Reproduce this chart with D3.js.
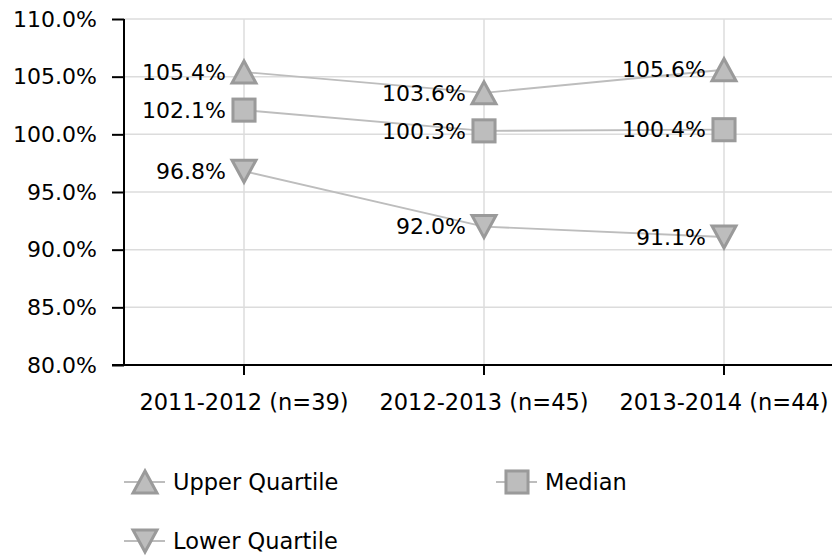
<!DOCTYPE html>
<html>
<head>
<meta charset="utf-8">
<script src="https://cdn.jsdelivr.net/npm/d3@7"></script>
<style>
  html, body { margin: 0; padding: 0; background: #fff; }
  svg { display: block; }
  text { font-family: "DejaVu Sans", Verdana, sans-serif; fill: #000; }
</style>
</head>
<body>
<svg id="chart" width="832" height="557"></svg>
<script>
// Periods along the x axis
const categories = ["2011-2012 (n=39)", "2012-2013 (n=45)", "2013-2014 (n=44)"];
// Percent values per series
const upperQuartile = [105.4, 103.6, 105.6];
const median = [102.1, 100.3, 100.4];
const lowerQuartile = [96.8, 92.0, 91.1];
// Y axis tick values
const yTicks = [80, 85, 90, 95, 100, 105, 110];

const series = [
  { name: "Upper Quartile", values: upperQuartile, symbol: "up" },
  { name: "Median", values: median, symbol: "square" },
  { name: "Lower Quartile", values: lowerQuartile, symbol: "down" }
];

const svg = d3.select("#chart");
const plotLeft = 124, plotRight = 844, plotTop = 19, plotBottom = 365;
const fontFamily = "DejaVu Sans, Verdana, sans-serif";

const x = d3.scaleBand().domain(categories).range([plotLeft, plotRight]);
const xc = c => x(c) + x.bandwidth() / 2;
const y = d3.scaleLinear().domain([80, 110]).range([plotBottom, plotTop]);

const lineColor = "#bdbdbd", markFill = "#bdbdbd", markStroke = "#9a9a9a";

// Grid
const grid = svg.append("g");
grid.selectAll("line.h").data(yTicks).join("line")
  .attr("x1", plotLeft).attr("x2", plotRight)
  .attr("y1", d => y(d)).attr("y2", d => y(d))
  .attr("stroke", "#dcdcdc").attr("stroke-width", 1.5);
grid.selectAll("line.v").data(categories).join("line")
  .attr("x1", d => xc(d)).attr("x2", d => xc(d))
  .attr("y1", plotTop).attr("y2", plotBottom)
  .attr("stroke", "#dcdcdc").attr("stroke-width", 1.5);

// Y axis
const yAxis = svg.append("g").attr("transform", `translate(${plotLeft},0)`)
  .call(d3.axisLeft(y).tickValues(yTicks).tickFormat(d => d.toFixed(1) + "%").tickSize(12).tickPadding(15));
yAxis.select(".domain").attr("stroke", "#000").attr("stroke-width", 2).attr("d", `M0,${plotTop}V${plotBottom}`);
yAxis.selectAll(".tick line").attr("stroke", "#000").attr("stroke-width", 2);
yAxis.selectAll(".tick text").style("font-size", "22px").style("font-family", fontFamily);

// X axis
const xAxis = svg.append("g").attr("transform", `translate(0,${plotBottom})`)
  .call(d3.axisBottom(x).tickSize(10).tickPadding(19));
xAxis.select(".domain").attr("stroke", "#000").attr("stroke-width", 2).attr("d", `M${plotLeft - 12},0H${plotRight}`);
xAxis.selectAll(".tick line").attr("stroke", "#000").attr("stroke-width", 2);
xAxis.selectAll(".tick text").style("font-size", "22.5px").style("font-family", fontFamily);

function drawSymbol(g, type, cx, cy, s) {
  if (type === "square") {
    const q = s * 0.92;
    g.append("rect").attr("x", cx - q / 2).attr("y", cy - q / 2).attr("width", q).attr("height", q)
      .attr("fill", markFill).attr("stroke", markStroke).attr("stroke-width", 3);
  } else {
    const h = s * 0.92, d = type === "up" ? -1 : 1;
    const pts = [[cx, cy + d * h / 2], [cx - s / 2, cy - d * h / 2], [cx + s / 2, cy - d * h / 2]];
    g.append("path").attr("d", "M" + pts.join("L") + "Z")
      .attr("fill", markFill).attr("stroke", markStroke).attr("stroke-width", 3).attr("stroke-linejoin", "miter");
  }
}

const line = d3.line().x((d, i) => xc(categories[i])).y(d => y(d));
const plot = svg.append("g");
series.forEach(s => {
  plot.append("path").datum(s.values).attr("d", line)
    .attr("fill", "none").attr("stroke", lineColor).attr("stroke-width", 1.8);
});
series.forEach(s => {
  s.values.forEach((v, i) => {
    const cx = xc(categories[i]), cy = y(v);
    drawSymbol(plot, s.symbol, cx, cy, 24);
    plot.append("text").attr("x", cx - 18).attr("y", cy).attr("dy", "0.35em")
      .attr("text-anchor", "end").style("font-size", "22px").text(v.toFixed(1) + "%");
  });
});

// Legend
const legendPos = [[124, 482], [496, 482], [124, 541]];
series.forEach((s, i) => {
  const [lx, ly] = legendPos[i];
  const g = svg.append("g");
  g.append("line").attr("x1", lx).attr("x2", lx + 41).attr("y1", ly).attr("y2", ly)
    .attr("stroke", lineColor).attr("stroke-width", 1.8);
  drawSymbol(g, s.symbol, lx + 21, ly, 24);
  g.append("text").attr("x", lx + 49).attr("y", ly).attr("dy", "0.35em")
    .style("font-size", "22.5px").text(s.name);
});
</script>
</body>
</html>
